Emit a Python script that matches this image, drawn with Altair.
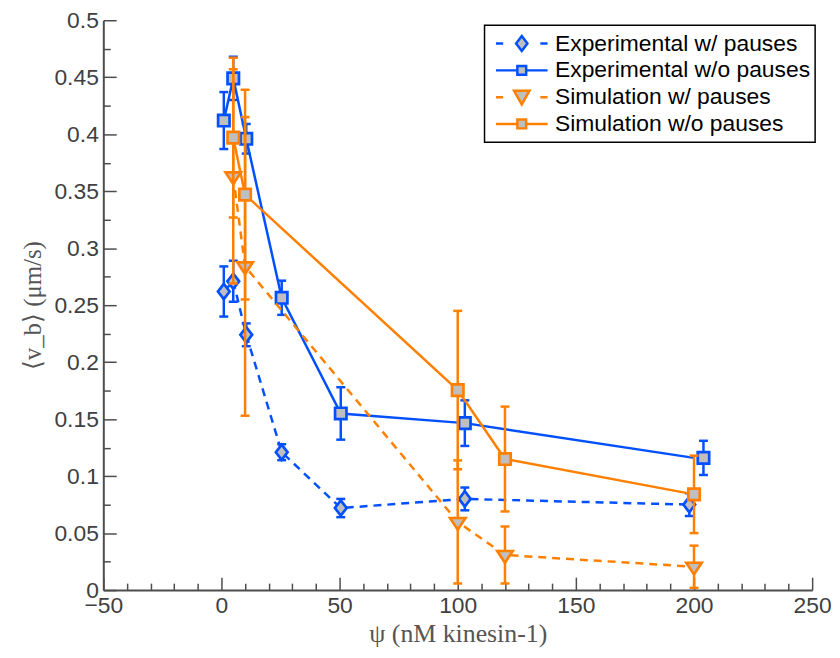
import altair as alt
import pandas as pd

# ---------------- data ----------------
series_names = ["Experimental w/ pauses", "Experimental w/o pauses",
                "Simulation w/ pauses", "Simulation w/o pauses"]

exp_wp_x = [1, 5, 10.5, 25.5, 50.5, 103, 198]
exp_wp_y = [0.262, 0.271, 0.224, 0.121, 0.072, 0.080, 0.075]
exp_wp_err = [0.022, 0.018, 0.010, 0.007, 0.008, 0.010, 0.010]

exp_wop_x = [1, 5, 10.5, 25.5, 50.5, 103, 204]
exp_wop_line_x = [1, 5, 10.5, 25.5, 50.5, 103, 200]
exp_wop_y = [0.412, 0.449, 0.396, 0.2565, 0.155, 0.1465, 0.116]
exp_wop_err = [0.025, 0.019, 0.013, 0.015, 0.023, 0.020, 0.015]

sim_wp_x = [5, 10, 100, 120, 200]
sim_wp_y = [0.363, 0.284, 0.0598, 0.0308, 0.0205]
sim_wp_err = [0.094, 0.131, 0.054, 0.025, 0.0185]

sim_wop_x = [5, 10, 100, 120, 200]
sim_wop_y = [0.397, 0.347, 0.1755, 0.115, 0.084]
sim_wop_err = [0.070, 0.092, 0.0695, 0.046, 0.034]

x_major = [-50, 0, 50, 100, 150, 200, 250]
x_minor = [-40, -30, -20, -10, 10, 20, 30, 40, 60, 70, 80, 90, 110, 120, 130,
           140, 160, 170, 180, 190, 210, 220, 230, 240]
y_major = [0, 0.05, 0.1, 0.15, 0.2, 0.25, 0.3, 0.35, 0.4, 0.45, 0.5]
y_minor = [0.025, 0.075, 0.125, 0.175, 0.225, 0.275, 0.325, 0.375, 0.425, 0.475]

# ---------------- styles ----------------
BLUE = "#0050ff"
ORANGE = "#ff8000"
GREY = "#bfbfbf"
AX = "#4d4d4d"
SANS = "Liberation Sans"
SERIF = "Liberation Serif"

P_SQUARE = "M-0.72,-0.72H0.72V0.72H-0.72Z"
P_DIAMOND = "M0,-0.96L0.74,0L0,0.96L-0.74,0Z"
P_TRI = "M-0.97,-0.5H0.97L0,0.97Z"

L_DIAMOND = "M-1,0H-0.72M0.72,0H1M0,-0.29L0.22,0L0,0.29L-0.22,0Z"
L_SQUARE = "M-1,0H-0.17M0.17,0H1M-0.17,-0.17H0.17V0.17H-0.17Z"
L_TRI = "M-1,0H-0.72M0.72,0H1M-0.3,-0.25H0.3L0,0.28Z"


def frame(name, xs, ys, errs, line_x=None):
    lx = line_x if line_x is not None else xs
    return pd.DataFrame({
        "series": name, "x": xs, "xl": lx, "y": ys,
        "lo": [a - b for a, b in zip(ys, errs)],
        "hi": [a + b for a, b in zip(ys, errs)],
    })


d_ewp = frame(series_names[0], exp_wp_x, exp_wp_y, exp_wp_err)
d_ewop = frame(series_names[1], exp_wop_x, exp_wop_y, exp_wop_err, exp_wop_line_x)
d_swp = frame(series_names[2], sim_wp_x, sim_wp_y, sim_wp_err)
d_swop = frame(series_names[3], sim_wop_x, sim_wop_y, sim_wop_err)
all_df = pd.concat([d_ewp, d_ewop, d_swp, d_swop], ignore_index=True)

xscale = alt.Scale(domain=[-50, 250], nice=False, zero=False)
yscale = alt.Scale(domain=[0, 0.5], nice=False, zero=False)

# ---------------- axes ----------------
ax_x_main = alt.Axis(orient="bottom", values=x_major, format="d", ticks=False,
                     domain=True, domainColor=AX, domainWidth=2, grid=False,
                     labelFont=SANS, labelFontSize=23, labelColor="#404040",
                     labelPadding=5, labelFlush=False, labelOverlap=False,
                     title="ψ (nM kinesin-1)", titleFont=SERIF, titleFontSize=26,
                     titleFontWeight="normal", titleColor="#555555", titlePadding=3)
ax_y_main = alt.Axis(orient="left", values=y_major, format=".2~f", ticks=False,
                     domain=True, domainColor=AX, domainWidth=2, grid=False,
                     labelFont=SANS, labelFontSize=23, labelColor="#404040",
                     labelPadding=5, labelFlush=False, labelOverlap=False,
                     title="⟨v_b⟩ (μm/s)", titleFont=SERIF, titleFontSize=25,
                     titleFontWeight="normal", titleColor="#555555", titlePadding=8)


def tick_axis(orient, vals, size):
    return alt.Axis(orient=orient, values=vals, labels=False, domain=False,
                    ticks=True, tickSize=size, tickWidth=1.5, tickColor=AX,
                    offset=-size, grid=False, title=None)


def series_layers(df, color, dash, shape, axes=None):
    base = alt.Chart(df)
    ax = axes if axes is not None else [None, None, None]

    def X(field, a):
        if a is None:
            return alt.X(field, type="quantitative", scale=xscale, axis=None)
        return alt.X(field, type="quantitative", scale=xscale, axis=a[0])

    def Y(field, a):
        if a is None:
            return alt.Y(field, type="quantitative", scale=yscale, axis=None)
        return alt.Y(field, type="quantitative", scale=yscale, axis=a[1])

    line_kw = dict(color=color, strokeWidth=2.5)
    if dash:
        line_kw["strokeDash"] = dash
    line = base.mark_line(**line_kw).encode(x=X("xl", ax[0]), y=Y("y", ax[0]))
    bar = base.mark_rule(color=color, strokeWidth=2.5).encode(
        x=X("x", ax[1]), y=Y("lo", ax[1]), y2="hi:Q")
    cap_lo = base.mark_tick(color=color, orient="horizontal", size=9,
                            thickness=2.5, opacity=1).encode(
        x=X("x", ax[2]), y=Y("lo", ax[2]))
    cap_hi = base.mark_tick(color=color, orient="horizontal", size=9,
                            thickness=2.5, opacity=1).encode(
        x=X("x", None), y=Y("hi", None))
    pts = base.mark_point(shape=shape, filled=True, fill=GREY, stroke=color,
                          strokeWidth=2.7, size=256, opacity=1).encode(
        x=X("x", None), y=Y("y", None))
    return [line, bar, cap_lo, cap_hi, pts]


axes_sets = [
    (ax_x_main, ax_y_main),
    (tick_axis("bottom", x_major, 13), tick_axis("left", y_major, 13)),
    (tick_axis("bottom", x_minor, 7), tick_axis("left", y_minor, 7)),
]

layers = []
layers += series_layers(d_ewp, BLUE, [8, 6], P_DIAMOND, axes=axes_sets)
layers += series_layers(d_ewop, BLUE, None, P_SQUARE)
layers += series_layers(d_swp, ORANGE, [8, 6], P_TRI)
layers += series_layers(d_swop, ORANGE, None, P_SQUARE)

leg = alt.Legend(title=None, orient="none", legendX=384, legendY=5,
                 direction="vertical", symbolSize=2704, clipHeight=27,
                 rowPadding=0, labelFont=SANS, labelFontSize=23,
                 labelColor="black", labelLimit=0, labelOffset=6,
                 symbolOffset=5, padding=5, strokeColor="black",
                 fillColor="white", cornerRadius=0, symbolOpacity=1,
                 symbolStrokeWidth=2.5, symbolFillColor=GREY)

legend_layer = alt.Chart(all_df).mark_point(filled=True, fill=GREY,
                                            strokeWidth=2.5).encode(
    x=alt.X("x:Q", scale=xscale, axis=None),
    y=alt.Y("y:Q", scale=yscale, axis=None),
    stroke=alt.Stroke("series:N", scale=alt.Scale(domain=series_names,
                      range=[BLUE, BLUE, ORANGE, ORANGE]), legend=leg),
    shape=alt.Shape("series:N", scale=alt.Scale(domain=series_names,
                    range=[L_DIAMOND, L_SQUARE, L_TRI, L_SQUARE]), legend=leg),
    opacity=alt.value(0),
)
layers.append(legend_layer)

chart = alt.layer(*layers).properties(
    width=714, height=574,
    autosize=alt.AutoSizeParams(type="none"),
    padding={"left": 96, "top": 10, "right": 20, "bottom": 58},
).resolve_axis(x="independent", y="independent").configure_view(
    stroke=None
).configure_legend(strokeWidth=1.5)

chart.save("out.html", embed_options={"renderer": "svg", "actions": False})
